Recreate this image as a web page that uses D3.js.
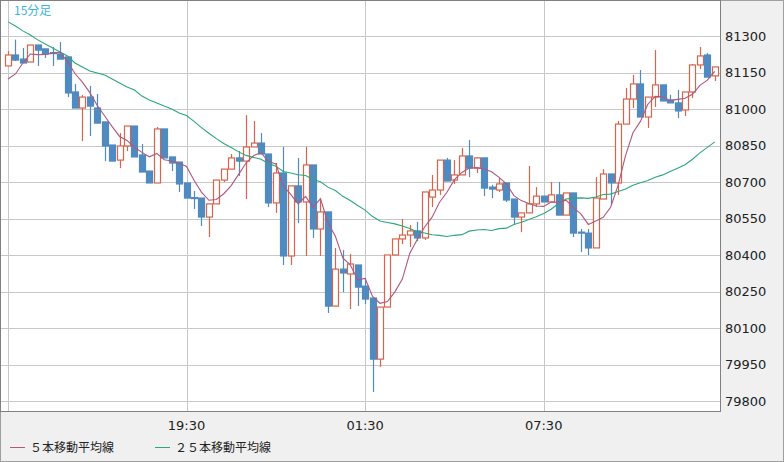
<!DOCTYPE html>
<html><head><meta charset="utf-8">
<script src="https://cdn.jsdelivr.net/npm/d3@7"></script>
<style>
  body { margin: 0; background: #f0f0f0; }
  svg { display: block; font-family: "DejaVu Sans", sans-serif; }
</style>
</head><body>
<svg id="chart" width="784" height="462"></svg>
<script>
/* 15-minute candles with 5 / 25 bar moving averages */

const OPEN  = [81177,81222,81205,81193,81263,81247,81232,81226,81214,81070,81004,81049,81004,80947,80852,80790,80848,80930,80811,80745,80696,80918,80803,80782,80696,80636,80634,80556,80610,80708,80753,80799,80786,80844,80860,80815,80614,80737,80396,80684,80618,80770,80507,80577,80190,80342,80322,80359,80272,80223,79972,80186,80400,80466,80482,80499,80470,80638,80667,80790,80708,80729,80807,80757,80799,80679,80667,80696,80630,80556,80573,80610,80642,80618,80647,80564,80655,80494,80490,80429,80630,80733,80696,80938,81041,81103,80967,81049,81099,81037,81025,80996,81070,81181,81222,81136];
const HIGH  = [81238,81285,81251,81263,81263,81247,81255,81275,81214,81103,81058,81095,81062,80947,80852,80901,80930,80930,80856,80745,80926,80918,80803,80782,80696,80663,80634,80610,80708,80753,80815,80827,80975,80951,80901,80815,80778,80844,80684,80799,80844,80770,80630,80577,80429,80420,80404,80359,80306,80223,80186,80400,80466,80548,80523,80536,80659,80729,80790,80799,80790,80840,80873,80803,80799,80688,80716,80696,80630,80573,80766,80679,80642,80700,80700,80655,80655,80507,80507,80720,80753,80733,80951,81086,81140,81160,81049,81242,81099,81058,81078,81070,81185,81255,81230,81173];
const LOW   = [81177,81197,81189,81193,81177,81210,81177,81205,81049,81004,80868,80889,80942,80786,80786,80757,80827,80803,80741,80696,80696,80799,80745,80659,80634,80589,80519,80474,80610,80700,80753,80725,80630,80844,80815,80597,80573,80359,80359,80531,80396,80470,80396,80162,80190,80248,80178,80190,80199,79837,79940,80186,80400,80445,80433,80457,80462,80597,80647,80704,80692,80729,80720,80737,80642,80634,80659,80618,80527,80494,80573,80597,80618,80618,80564,80564,80474,80412,80400,80429,80630,80605,80647,80938,81004,80967,80922,81008,81033,81025,80963,80971,81045,81164,81131,81115];
const CLOSE = [81222,81201,81189,81263,81242,81226,81228,81205,81066,81004,81049,81012,80942,80848,80786,80848,80930,80803,80741,80696,80918,80799,80778,80692,80634,80632,80556,80610,80708,80753,80799,80786,80844,80860,80815,80614,80737,80396,80684,80618,80770,80507,80577,80190,80342,80326,80363,80268,80219,79972,80186,80400,80466,80482,80499,80470,80659,80667,80790,80704,80729,80807,80757,80799,80675,80671,80692,80626,80556,80573,80610,80642,80618,80647,80564,80655,80490,80490,80429,80634,80733,80696,80938,81041,81103,80967,81049,81099,81033,81025,80992,81070,81181,81218,81131,81173];

// averages before enough history exists in this window
const MA5_HEAD  = [81123,81144,81189,81226];
const MA25_HEAD = [81358,81341,81321,81304,81284,81267,81251,81234,81218,81189,81173,81156,81148,81140,81123,81107,81090,81078,81053,81037,81025,81012,81000,80984];

const Y_TICKS = [79800,79950,80100,80250,80400,80550,80700,80850,81000,81150,81300];
const X_TICKS = [0,24,48,72];
const X_LABELS = { 24: '19:30', 48: '01:30', 72: '07:30' };

const UP = '#d8644a', DOWN = '#4f8ac0';

function movingAvg(n, head) {
  return CLOSE.map((c, i) => {
    if (i < head.length) return head[i];
    return d3.mean(CLOSE.slice(i - n + 1, i + 1));
  });
}
const ma5 = movingAvg(5, MA5_HEAD);
const ma25 = movingAvg(25, MA25_HEAD);

const W = 721, H = 412;
const svg = d3.select('#chart');

svg.append('rect').attr('x', 0.5).attr('y', 0.5).attr('width', 783).attr('height', 461)
  .attr('fill', '#f0f0f0').attr('stroke', '#a0a0a0');
svg.append('rect').attr('x', 0).attr('y', 0).attr('width', W).attr('height', H).attr('fill', '#fff');

const x = d3.scaleLinear().domain([0, 95]).range([8, 8 + 7.44 * 95]);
const y = d3.scaleLinear().domain([79800, 81300]).range([401, 36]);

// grid
svg.append('g').selectAll('line').data(Y_TICKS).join('line')
  .attr('x1', 0).attr('x2', W).attr('y1', d => Math.round(y(d)) + 0.5).attr('y2', d => Math.round(y(d)) + 0.5)
  .attr('stroke', '#c8c8c8');
svg.append('g').selectAll('line').data(X_TICKS).join('line')
  .attr('y1', 0).attr('y2', H).attr('x1', d => Math.round(x(d)) + 0.5).attr('x2', d => Math.round(x(d)) + 0.5)
  .attr('stroke', '#c8c8c8');

// candles
const idx = d3.range(CLOSE.length);
const cg = svg.append('g').selectAll('g').data(idx).join('g');
cg.append('line')
  .attr('x1', i => Math.round(x(i)) + 0.5).attr('x2', i => Math.round(x(i)) + 0.5)
  .attr('y1', i => y(HIGH[i])).attr('y2', i => y(LOW[i]))
  .attr('stroke', i => CLOSE[i] >= OPEN[i] ? UP : DOWN).attr('stroke-width', 1.2);
cg.append('rect')
  .attr('x', i => Math.round(x(i)) - 2.5)
  .attr('width', 6)
  .attr('y', i => y(Math.max(OPEN[i], CLOSE[i])))
  .attr('height', i => Math.max(1, Math.abs(y(OPEN[i]) - y(CLOSE[i]))))
  .attr('fill', i => CLOSE[i] >= OPEN[i] ? '#fff' : DOWN)
  .attr('stroke', i => CLOSE[i] >= OPEN[i] ? UP : DOWN)
  .attr('stroke-width', 1.2);

// moving averages
const line = d3.line().x((d, i) => x(i)).y(d => y(d));
svg.append('path').attr('d', line(ma25)).attr('fill', 'none').attr('stroke', '#2aa876').attr('stroke-width', 1.1);
svg.append('path').attr('d', line(ma5)).attr('fill', 'none').attr('stroke', '#b0587e').attr('stroke-width', 1.1);

// frame
svg.append('rect').attr('x', 0.5).attr('y', 0.5).attr('width', W - 1).attr('height', H - 1)
  .attr('fill', 'none').attr('stroke', '#808080');

// axes text
svg.append('g').selectAll('text').data(Y_TICKS).join('text')
  .attr('x', 725).attr('y', d => y(d) + 4.5).attr('font-size', 13).attr('fill', '#222').text(d => d);
svg.append('g').selectAll('text').data(X_TICKS.filter(d => X_LABELS[d])).join('text')
  .attr('x', d => x(d)).attr('y', 430).attr('text-anchor', 'middle').attr('font-size', 13).attr('fill', '#222')
  .text(d => X_LABELS[d]);

svg.append('text').attr('x', 14).attr('y', 15).attr('font-size', 12).attr('fill', '#3cb4e6')
  .attr('font-family', '"Noto Sans CJK JP", sans-serif').text('15分足');

// legend
const legend = [
  { label: '５本移動平均線', color: '#b0587e', x: 10 },
  { label: '２５本移動平均線', color: '#2aa876', x: 155 },
];
const lg = svg.append('g').selectAll('g').data(legend).join('g');
lg.append('line').attr('x1', d => d.x).attr('x2', d => d.x + 15).attr('y1', 447.5).attr('y2', 447.5)
  .attr('stroke', d => d.color);
lg.append('text').attr('x', d => d.x + 20).attr('y', 452).attr('font-size', 12).attr('fill', '#222')
  .attr('font-family', '"Noto Sans CJK JP", sans-serif').text(d => d.label);
</script>
</body></html>
